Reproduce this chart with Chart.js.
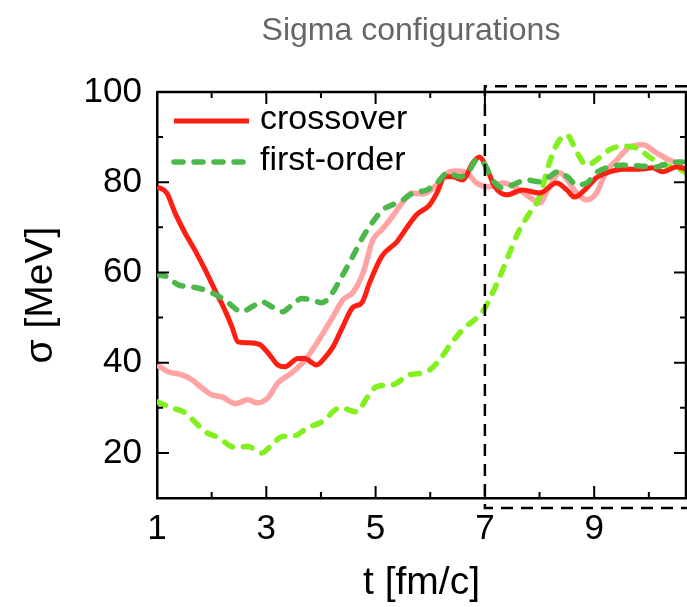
<!DOCTYPE html>
<html>
<head>
<meta charset="utf-8">
<script src="https://cdn.jsdelivr.net/npm/chart.js@4.4.1/dist/chart.umd.min.js"></script>
<style>
  html, body { margin: 0; padding: 0; background: #fff; }
  #wrap { width: 687px; height: 607px; }
</style>
</head>
<body>
<div id="wrap"><canvas id="sigmaChart" width="687" height="607"></canvas></div>
<script>
// ===== Datos =====
const chartTitle = 'Sigma configurations';
const xTickLabels = [1, 3, 5, 7, 9];
const yTickLabels = [20, 40, 60, 80, 100];

// crossover (rojo)
const crossoverT = [1.0, 1.18, 1.33, 1.51, 1.69, 1.88, 2.06, 2.24, 2.37, 2.48, 2.66, 2.88, 3.03, 3.21, 3.34, 3.58, 3.70, 3.92, 4.07, 4.22, 4.40, 4.58, 4.75, 4.89, 5.11, 5.39, 5.57, 5.75, 5.99, 6.12, 6.27, 6.41, 6.59, 6.78, 6.90, 7.03, 7.18, 7.40, 7.69, 8.00, 8.31, 8.50, 8.64, 8.86, 9.04, 9.28, 9.52, 9.83, 10.07, 10.25, 10.51, 10.68];
const crossoverSigma = [79.0, 77.6, 73.2, 68.8, 65.0, 60.6, 56.1, 51.7, 48.0, 44.6, 44.4, 44.0, 42.2, 39.5, 39.1, 40.9, 40.9, 39.5, 41.1, 43.5, 48.0, 52.2, 53.3, 57.7, 63.5, 66.8, 69.9, 72.8, 75.0, 77.6, 81.2, 81.2, 80.5, 84.3, 85.6, 83.2, 79.0, 77.2, 78.3, 77.6, 79.8, 78.3, 76.7, 78.7, 81.0, 82.3, 82.9, 82.9, 83.2, 82.3, 83.4, 82.9];

// crossover, segunda configuración (rosa)
const crossoverAltT = [1.0, 1.2, 1.46, 1.64, 1.82, 2.0, 2.19, 2.43, 2.66, 2.83, 3.03, 3.21, 3.47, 3.71, 3.96, 4.22, 4.40, 4.58, 4.77, 4.95, 5.11, 5.30, 5.50, 5.66, 5.86, 6.12, 6.32, 6.48, 6.67, 6.85, 7.06, 7.33, 7.58, 7.82, 8.0, 8.18, 8.37, 8.51, 8.68, 8.86, 9.04, 9.22, 9.41, 9.65, 9.89, 10.14, 10.38, 10.62];
const crossoverAltSigma = [39.5, 38.0, 37.3, 36.2, 34.4, 32.9, 32.4, 30.9, 31.8, 31.1, 32.2, 35.5, 37.8, 40.6, 45.0, 50.2, 53.9, 55.5, 59.9, 67.2, 69.4, 72.3, 75.6, 77.6, 77.4, 79.4, 82.1, 82.5, 82.1, 79.8, 79.0, 79.8, 78.7, 76.7, 75.4, 79.0, 82.1, 80.5, 77.6, 76.1, 77.6, 82.3, 84.9, 87.8, 88.3, 86.5, 84.9, 83.8];

// first-order (verde oscuro)
const firstOrderT = [1.0, 1.2, 1.38, 1.64, 1.88, 2.12, 2.30, 2.55, 2.74, 2.92, 3.10, 3.30, 3.47, 3.65, 3.83, 4.02, 4.16, 4.35, 4.58, 4.77, 4.95, 5.13, 5.31, 5.50, 5.68, 5.94, 6.12, 6.32, 6.54, 6.69, 6.85, 6.96, 7.14, 7.33, 7.51, 7.76, 8.0, 8.18, 8.33, 8.51, 8.68, 8.86, 9.04, 9.28, 9.52, 9.83, 10.14, 10.38, 10.62];
const firstOrderSigma = [59.5, 59.0, 57.3, 56.8, 56.1, 54.8, 53.3, 51.3, 52.4, 53.5, 52.4, 51.3, 52.8, 54.2, 53.9, 53.3, 54.6, 58.4, 63.5, 67.9, 71.2, 73.9, 75.0, 76.1, 77.6, 78.3, 79.8, 82.1, 81.2, 82.1, 84.9, 84.5, 80.5, 78.7, 79.4, 80.5, 80.1, 81.2, 82.3, 81.2, 79.4, 79.8, 82.1, 83.4, 83.8, 83.6, 83.4, 84.3, 84.5];

// first-order, segunda configuración (verde lima)
const firstOrderAltT = [1.0, 1.27, 1.51, 1.69, 1.88, 2.12, 2.43, 2.66, 2.92, 3.10, 3.29, 3.52, 3.76, 4.02, 4.35, 4.66, 4.84, 5.02, 5.31, 5.62, 5.94, 6.17, 6.39, 6.59, 6.85, 6.96, 7.09, 7.27, 7.45, 7.63, 7.82, 8.0, 8.18, 8.33, 8.50, 8.68, 8.86, 9.04, 9.28, 9.52, 9.78, 10.01, 10.25, 10.51, 10.68];
const firstOrderAltSigma = [31.3, 30.0, 28.9, 26.9, 24.7, 23.4, 21.2, 21.4, 20.0, 21.8, 23.6, 23.8, 25.6, 26.9, 30.0, 29.1, 32.2, 34.7, 35.1, 37.3, 38.0, 40.6, 44.4, 47.3, 49.9, 51.3, 54.2, 59.0, 64.3, 69.4, 73.2, 76.7, 84.3, 88.7, 90.5, 86.7, 83.8, 84.9, 87.2, 88.0, 87.6, 85.6, 83.8, 83.2, 82.1];

// recuadro discontinuo (en unidades de datos)
const boxT = 7;
const boxSigmaTop = 101.3;
const boxSigmaBottom = 7.8;

const FONT = '"Liberation Sans", Arial, Helvetica, sans-serif';
const toPoints = (xs, ys) => xs.map((x, i) => ({ x: x, y: ys[i] }));

// Título, marco con ticks hacia dentro, recuadro y leyenda
const framePlugin = {
    id: 'frame',
    afterDraw(chart) {
        const { ctx, chartArea: a, scales: { x, y } } = chart;
        ctx.save();
        // título
        ctx.fillStyle = '#666';
        ctx.font = '32px ' + FONT;
        ctx.textAlign = 'center';
        ctx.textBaseline = 'middle';
        ctx.fillText(chartTitle, 411, 31);

        // marco
        ctx.strokeStyle = '#000';
        ctx.lineWidth = 2.5;
        ctx.setLineDash([]);
        ctx.beginPath();
        ctx.moveTo(a.left, a.top); ctx.lineTo(a.right, a.top); ctx.lineTo(a.right, a.bottom);
        ctx.stroke();

        ctx.lineWidth = 2;
        ctx.beginPath();
        for (let v = 1; v <= 10; v++) {
            const px = x.getPixelForValue(v);
            const len = (v % 2 === 1) ? 12 : 6;
            ctx.moveTo(px, a.bottom); ctx.lineTo(px, a.bottom - len);
            ctx.moveTo(px, a.top); ctx.lineTo(px, a.top + len);
        }
        for (let v = 20; v < 100; v += 10) {
            const py = y.getPixelForValue(v);
            const len = (v % 20 === 0) ? 12 : 6;
            ctx.moveTo(a.left, py); ctx.lineTo(a.left + len, py);
            ctx.moveTo(a.right, py); ctx.lineTo(a.right - len, py);
        }
        ctx.stroke();

        // recuadro discontinuo
        const bx = x.getPixelForValue(boxT);
        const bt = y.getPixelForValue(boxSigmaTop);
        const bb = y.getPixelForValue(boxSigmaBottom);
        ctx.lineWidth = 2.5;
        ctx.setLineDash([12, 8]);
        ctx.beginPath();
        ctx.moveTo(chart.width, bt); ctx.lineTo(bx, bt); ctx.lineTo(bx, bb); ctx.lineTo(chart.width, bb);
        ctx.stroke();

        // leyenda
        const entries = [chart.data.datasets[0], chart.data.datasets[2]];
        const rows = [121, 162];
        entries.forEach((ds, i) => {
            ctx.strokeStyle = ds.borderColor;
            ctx.lineWidth = ds.borderWidth;
            ctx.lineCap = ds.borderCapStyle || 'butt';
            ctx.setLineDash(ds.borderDash || []);
            ctx.beginPath();
            ctx.moveTo(174, rows[i]); ctx.lineTo(249, rows[i]);
            ctx.stroke();
            ctx.setLineDash([]);
            ctx.fillStyle = '#000';
            ctx.font = '34px ' + FONT;
            ctx.textAlign = 'left';
            ctx.textBaseline = 'middle';
            ctx.fillText(ds.label, 260, rows[i] - 1);
        });
        ctx.restore();
    }
};

const ctx = document.getElementById('sigmaChart').getContext('2d');
new Chart(ctx, {
    type: 'line',
    data: {
        datasets: [
            {
                label: 'crossover',
                data: toPoints(crossoverT, crossoverSigma),
                borderColor: '#ff1e12',
                borderWidth: 5,
                order: 2
            },
            {
                label: 'crossover 2',
                data: toPoints(crossoverAltT, crossoverAltSigma),
                borderColor: '#ffa3a3',
                borderWidth: 5.5,
                order: 4
            },
            {
                label: 'first-order',
                data: toPoints(firstOrderT, firstOrderSigma),
                borderColor: '#4cb84c',
                borderWidth: 5.5,
                borderDash: [9, 11],
                borderCapStyle: 'round',
                order: 1
            },
            {
                label: 'first-order 2',
                data: toPoints(firstOrderAltT, firstOrderAltSigma),
                borderColor: '#82f01c',
                borderWidth: 5.5,
                borderDash: [9, 11],
                borderCapStyle: 'round',
                order: 3
            }
        ]
    },
    options: {
        responsive: false,
        animation: false,
        layout: { padding: { top: 92, right: 1, left: 0, bottom: 0 } },
        elements: {
            point: { radius: 0 },
            line: { cubicInterpolationMode: 'monotone', fill: false }
        },
        plugins: {
            legend: { display: false },
            title: { display: false },
            tooltip: { enabled: false }
        },
        scales: {
            x: {
                type: 'linear',
                min: 1,
                max: 10.68,
                afterBuildTicks: s => { s.ticks = xTickLabels.map(v => ({ value: v })); },
                afterFit: s => { s.height = 109; },
                grid: { display: false, drawTicks: false },
                border: { display: true, color: '#000', width: 2.5 },
                ticks: { color: '#000', font: { family: FONT, size: 35 }, padding: 10, maxRotation: 0 },
                title: { display: true, text: 't [fm/c]', color: '#000', font: { family: FONT, size: 39 }, padding: { top: 0, bottom: 0 } }
            },
            y: {
                min: 10,
                max: 100,
                afterBuildTicks: s => { s.ticks = yTickLabels.map(v => ({ value: v })); },
                afterFit: s => { s.width = 157; },
                grid: { display: false, drawTicks: false },
                border: { display: true, color: '#000', width: 2.5 },
                ticks: { color: '#000', font: { family: FONT, size: 35 }, padding: 15 },
                title: { display: true, text: 'σ [MeV]', color: '#000', font: { family: FONT, size: 39 }, padding: { top: 18, bottom: 0 } }
            }
        }
    },
    plugins: [framePlugin]
});
</script>
</body>
</html>
